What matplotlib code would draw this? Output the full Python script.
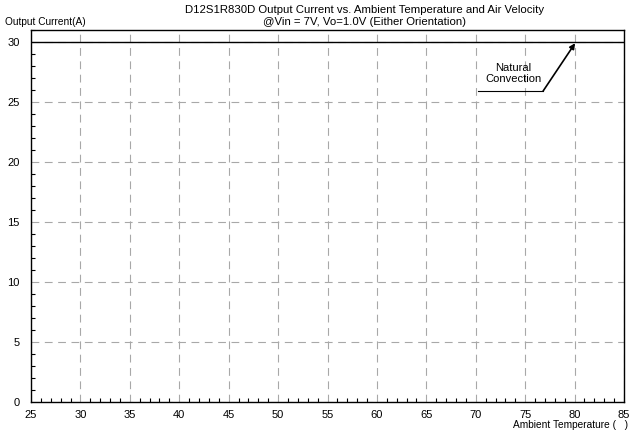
import matplotlib
matplotlib.use("Agg")
import matplotlib.pyplot as plt
from matplotlib.ticker import MultipleLocator

plt.rcParams["font.family"] = ["Liberation Sans", "DejaVu Sans"]

# data
temp = [25, 85]
current = [30, 30]
x_ticks = [25, 30, 35, 40, 45, 50, 55, 60, 65, 70, 75, 80, 85]
y_ticks = [0, 5, 10, 15, 20, 25, 30]

fig = plt.figure(figsize=(6.29, 4.33), dpi=100)
ax = fig.add_axes([0.0493, 0.0716, 0.9428, 0.8591])

ax.plot(temp, current, color="black", lw=1.0)

ax.set_xlim(25, 85)
ax.set_ylim(0, 31)
ax.set_xticks(x_ticks)
ax.set_yticks(y_ticks)
ax.xaxis.set_minor_locator(MultipleLocator(1))
ax.yaxis.set_minor_locator(MultipleLocator(1))
ax.tick_params(which="both", direction="in", labelsize=8, width=0.8)
ax.tick_params(which="major", length=0)
ax.tick_params(axis="x", which="major", pad=6)
ax.tick_params(axis="y", which="major", pad=8)
ax.tick_params(which="minor", length=3)
ax.grid(True, which="major", color="#a8a8a8", ls=(0, (7, 5)), lw=0.8)
for s in ax.spines.values():
    s.set_linewidth(1.0)
    s.set_color("black")

ax.annotate("", xy=(80.05, 29.9), xytext=(76.8, 25.9),
            arrowprops=dict(arrowstyle="-|>", color="black", lw=1.2,
                            mutation_scale=8, shrinkA=0, shrinkB=0))
ax.plot([70.2, 76.8], [25.9, 25.9], color="black", lw=0.8)
ax.text(73.8, 27.4, "Natural\nConvection", ha="center", va="center",
        fontsize=8, linespacing=1.1)

fig.text(0.58, 0.977, "D12S1R830D Output Current vs. Ambient Temperature and Air Velocity",
         ha="center", va="center", fontsize=8.2)
fig.text(0.58, 0.949, "@Vin = 7V, Vo=1.0V (Either Orientation)",
         ha="center", va="center", fontsize=8.2)
fig.text(0.008, 0.949, "Output Current(A)", ha="left", va="center", fontsize=7.3)
fig.text(0.998, 0.019, "Ambient Temperature (   )", ha="right", va="center",
         fontsize=7.3)

fig.savefig("out.png", dpi=100, facecolor="white")
